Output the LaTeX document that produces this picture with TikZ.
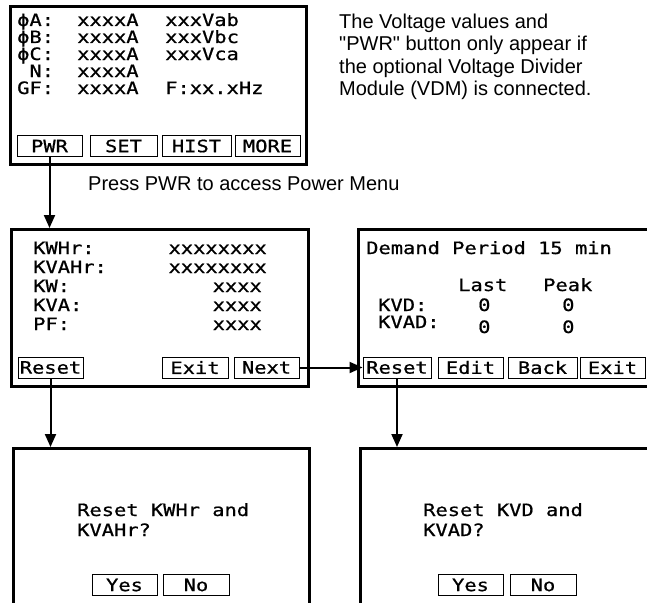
\documentclass[tikz,border=0pt]{standalone}
\usepackage{fontspec}
\setmainfont{Liberation Sans}
\newfontfamily\notefont{Liberation Sans}
\newfontfamily\lcdfont[FakeStretch=1.2, FakeBold=0.8]{DejaVu Sans Mono}
\usetikzlibrary{arrows.meta}

\begin{document}
\begin{tikzpicture}[x=1pt, y=-1pt, >={Triangle[length=13pt,width=11pt]},
	screen/.style={draw, line width=2.6pt, anchor=north west, inner sep=0pt},
	softkey/.style={draw, line width=1pt, minimum height=21pt, inner sep=0pt, font=\lcdfont\fontsize{17}{17}\selectfont},
	lcd/.style={anchor=base west, inner sep=0pt, font=\lcdfont\fontsize{17}{17}\selectfont},
	note/.style={anchor=base west, inner sep=0pt, font=\notefont\fontsize{20}{22}\selectfont}]
	\useasboundingbox (0,0) rectangle (647,602);
	% main screen
	\node[screen, minimum width=296pt, minimum height=158pt] (main) at (9,5) {};
	\foreach \lab/\val [count=\i] in {ϕA:/xxxxA, ϕB:/xxxxA, ϕC:/xxxxA, \hphantom{G}N:/xxxxA, GF:/xxxxA}{
		\node[lcd] (lab\i) at (17,{9+17*\i}) {\lab};
		\node[lcd] (amp\i) at (77,{9+17*\i}) {\val};
	}
	\foreach \i/\val in {1/xxxVab, 2/xxxVbc, 3/xxxVca, 5/F:xx.xHz}
		\node[lcd] (volt\i) at (165,{9+17*\i}) {\val};
	\foreach \nm/\cx/\w/\t in {pwr/49.5/65/PWR, set/123.5/67/SET, hist/196.5/69/HIST, more/267.5/65/MORE}
		\node[softkey, minimum width=\w] (\nm) at (\cx,146) {\t};
	% notes
	\foreach \t [count=\i] in {The Voltage values and, "PWR" button only appear if, the optional Voltage Divider, Module (VDM) is connected.}
		\node[note] (note\i) at (339,{22*\i+7}) {\t};
	\node[note] (press) at (88,190) {Press PWR to access Power Menu};
	% power menu
	\node[screen, minimum width=297pt, minimum height=157pt] (kwh) at (10,228) {};
	\foreach \lab [count=\i] in {KWHr:, KVAHr:, KW:, KVA:, PF:}
		\node[lcd] (plab\i) at (33,{235+19*\i}) {\lab};
	\foreach \i/\x/\val in {1/267/xxxxxxxx, 2/267/xxxxxxxx, 3/262/xxxx, 4/262/xxxx, 5/262/xxxx}
		\node[lcd, anchor=base east] (pval\i) at (\x,{235+19*\i}) {\val};
	\foreach \nm/\cx/\w/\t in {rst/50.5/65/Reset, exit/195/66/Exit, next/266.5/65/Next}
		\node[softkey, minimum width=\w] (\nm) at (\cx,367.5) {\t};
	% demand screen
	\node[screen, minimum width=300pt, minimum height=157pt] (kvd) at (357,228) {};
	\node[lcd] (period) at (366,254) {Demand Period 15 min};
	\node[lcd] (last) at (458,291) {Last};
	\node[lcd] (peak) at (543,291) {Peak};
	\node[lcd] (kvdlab) at (378,311) {KVD:};
	\node[lcd] (kvadlab) at (378,328) {KVAD:};
	\foreach \x/\y [count=\i] in {478/311, 562/311, 478/333, 562/333}
		\node[lcd] (zero\i) at (\x,\y) {0};
	\foreach \nm/\cx/\w/\t in {rstd/397/68/Reset, edit/470.5/65/Edit, back/542.5/69/Back, exitd/612.5/65/Exit}
		\node[softkey, minimum width=\w] (\nm) at (\cx,367.5) {\t};
	% confirm screens
	\node[screen, minimum width=296pt, minimum height=200pt] (conf) at (12,447) {};
	\node[lcd] (ask1) at (77,516) {Reset KWHr and};
	\node[lcd] (ask2) at (77,536) {KVAHr?};
	\node[softkey, minimum width=65] (yes) at (124.5,585) {Yes};
	\node[softkey, minimum width=66] (no) at (196,585) {No};
	\node[screen, minimum width=300pt, minimum height=200pt] (confd) at (359,447) {};
	\node[lcd] (askd1) at (423,516) {Reset KVD and};
	\node[lcd] (askd2) at (423,536) {KVAD?};
	\node[softkey, minimum width=65] (yesd) at (470.5,585) {Yes};
	\node[softkey, minimum width=66] (nod) at (543,585) {No};
	% arrows
	\draw[->, line width=2pt] (pwr.south) -- (pwr.south |- kwh.north);
	\draw[->, line width=2pt] (next.east) -- (rstd.west);
	\draw[->, line width=2pt] (rst.south) -- (rst.south |- conf.north);
	\draw[->, line width=2pt] (rstd.south) -- (rstd.south |- confd.north);
\end{tikzpicture}
\end{document}
